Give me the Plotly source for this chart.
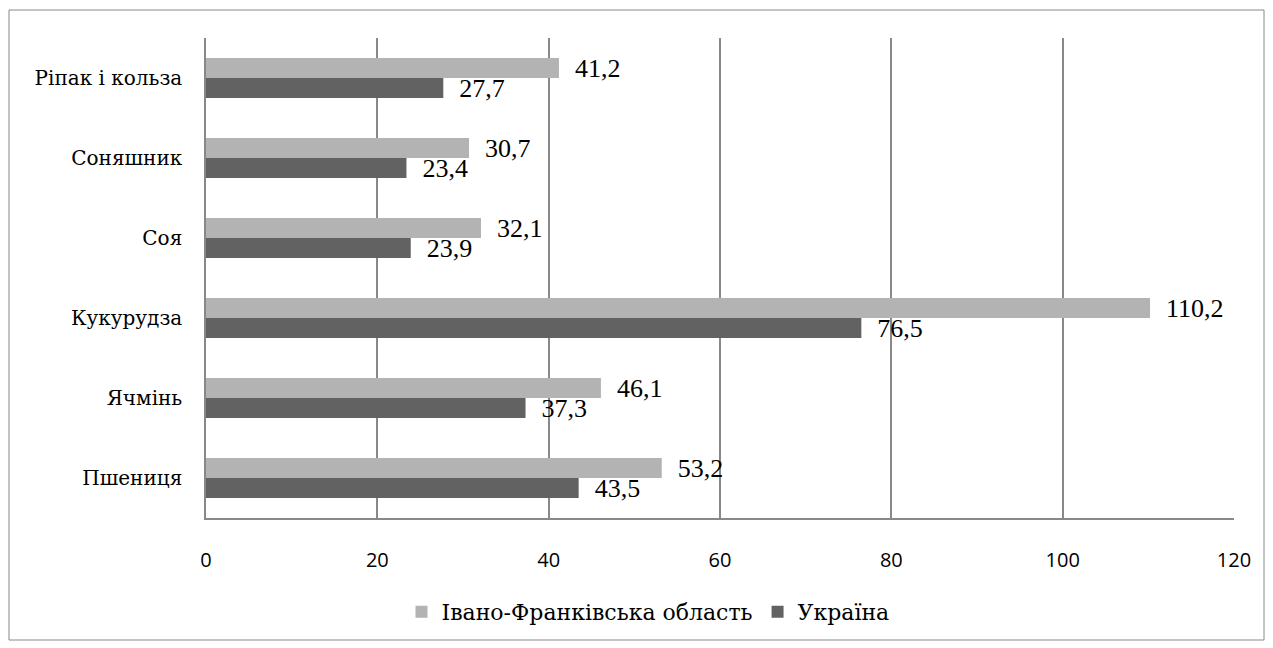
import plotly.graph_objects as go

categories = ["Пшениця", "Ячмінь", "Кукурудза", "Соя", "Соняшник", "Ріпак і кольза"]
ivano_frankivsk = [53.2, 46.1, 110.2, 32.1, 30.7, 41.2]
ukraine = [43.5, 37.3, 76.5, 23.9, 23.4, 27.7]
x_ticks = [0, 20, 40, 60, 80, 100, 120]

SERIF = "Liberation Serif, serif"
CYR_SERIF = "DejaVu Serif"
SANS = "Open Sans"
PAD = "\u00a0\u00a0"

def fmt(v):
    return PAD + f"{v:.1f}".replace(".", ",")

fig = go.Figure()
fig.add_trace(go.Bar(
    y=categories, x=ukraine, orientation="h", name="Україна",
    marker=dict(color="#626262", line=dict(width=0)),
    text=[fmt(v) for v in ukraine], textposition="outside", cliponaxis=False,
    constraintext="none",
    textfont=dict(family=SERIF, size=26, color="#000"),
    legendrank=2,
))
fig.add_trace(go.Bar(
    y=categories, x=ivano_frankivsk, orientation="h", name="Івано-Франківська область",
    marker=dict(color="#B3B3B3", line=dict(width=0)),
    text=[fmt(v) for v in ivano_frankivsk], textposition="outside", cliponaxis=False,
    constraintext="none",
    textfont=dict(family=SERIF, size=26, color="#000"),
    legendrank=1,
))

OFF = 8
W, H = 1273 - OFF, 648 - OFF
L, T = 206 - OFF, 38 - OFF
R = W - (1234 - OFF)
B = H - (518 - OFF)
pw, ph = W - L - R, H - T - B

fig.update_layout(
    width=W, height=H,
    margin=dict(l=L, r=R, t=T, b=B),
    font=dict(family=SERIF, size=21, color="#000"),
    paper_bgcolor="white", plot_bgcolor="white",
    barmode="group", bargap=0.5, bargroupgap=0,
    showlegend=True,
    shapes=[dict(type="rect", xref="paper", yref="paper",
                 x0=(9 - 206) / pw, x1=(1264 - 206) / pw,
                 y0=(518 - 640) / ph, y1=(518 - 10) / ph,
                 line=dict(color="#888888", width=1), fillcolor="rgba(0,0,0,0)", layer="below")],
)
fig.update_xaxes(range=[0, 120], tickvals=x_ticks, showgrid=True, gridcolor="#888888", gridwidth=1.5,
                 showline=True, linecolor="#888888", linewidth=1.5, zeroline=False,
                 tickfont_family=SANS, tickfont_size=20, tickfont_color="#000",
                 ticks="outside", ticklen=23, tickcolor="rgba(0,0,0,0)")
fig.update_yaxes(showgrid=False, showline=True, linecolor="#888888", linewidth=1.5,
                 tickfont_family=CYR_SERIF, tickfont_size=20, tickfont_color="#000",
                 ticks="outside", ticklen=18, tickcolor="rgba(0,0,0,0)")
fig.update_layout(legend=dict(orientation="h", x=(648 - 206) / pw, xanchor="center",
                              y=(518 - 612) / ph, yanchor="middle",
                              font=dict(family=CYR_SERIF, size=22, color="#000"), itemwidth=30))

fig.write_html("out.html")
